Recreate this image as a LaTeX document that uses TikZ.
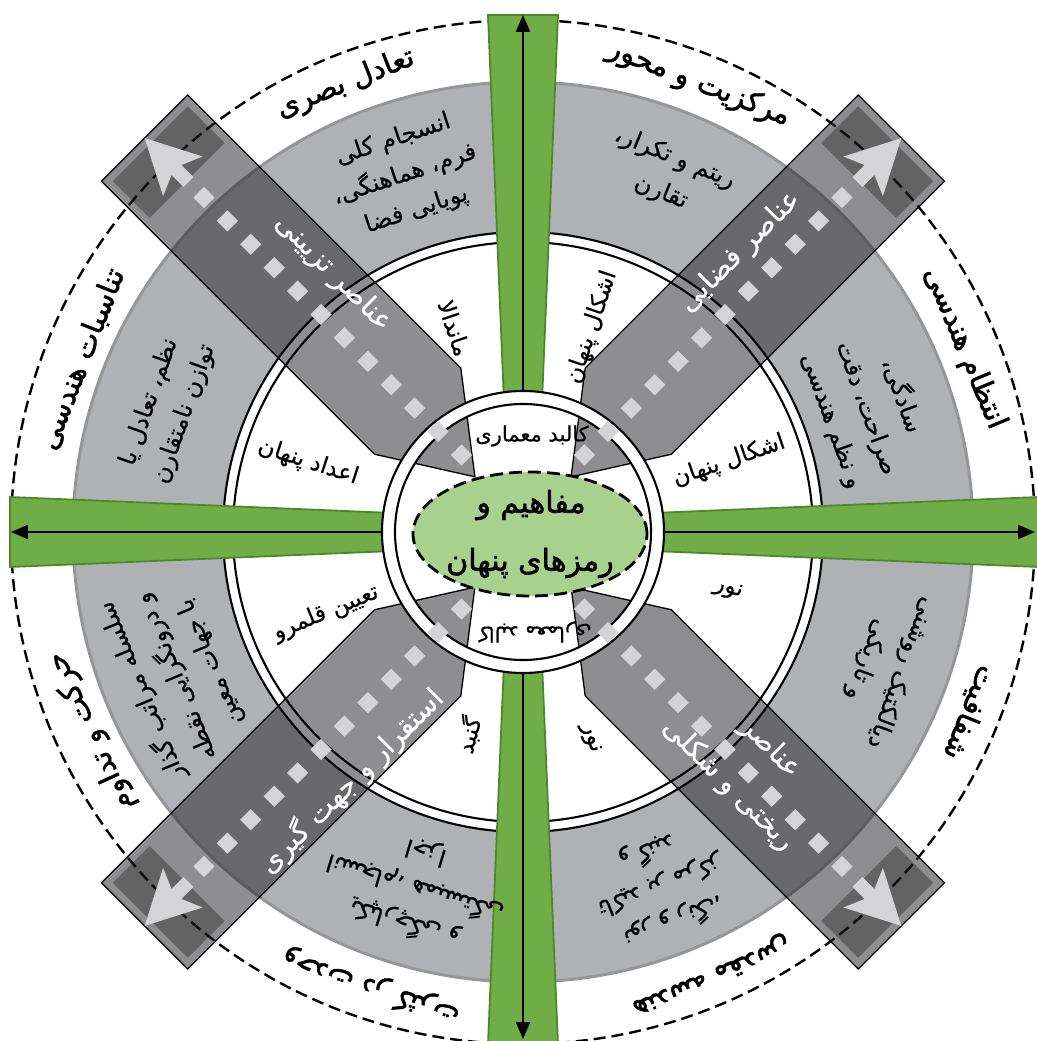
\documentclass[tikz,border=0pt]{standalone}
\usepackage{fontspec}
\newfontfamily\fa[Script=Arabic,FakeBold=0.5]{DejaVu Sans}
\newfontfamily\fab[Script=Arabic,FakeBold=1.8]{DejaVu Sans}
\TeXXeTstate=1
\usetikzlibrary{arrows.meta,shapes.geometric}
\newcommand{\fl}[1]{\beginR #1\endR}
\definecolor{ringgray}{RGB}{176,177,181}
\definecolor{ringedge}{RGB}{150,150,154}
\definecolor{bargreen}{RGB}{112,173,71}
\definecolor{baredge}{RGB}{78,136,46}
\definecolor{ellgreen}{RGB}{169,209,142}
\definecolor{diam}{RGB}{212,211,213}
\tikzset{
  bandfill/.style={fill={rgb,255:red,40;green,40;blue,44},fill opacity=0.52,draw=black,line width=1.3},
  barstyle/.style={fill=bargreen,draw=baredge,line width=1.8},
  arr/.style={line width=2.2,-{Triangle[length=17,width=14]}},
  ringline/.style={line width=2.1},
  outer/.style={font=\fab\fontsize{29}{34}\selectfont,inner sep=0},
  gtext/.style={font=\fa\fontsize{24}{37}\selectfont,align=center,inner sep=0},
  itext/.style={font=\fa\fontsize{23}{26}\selectfont,inner sep=0},
  ktext/.style={font=\fa\fontsize{21}{24}\selectfont,inner sep=0},
  btext/.style={font=\fa\fontsize{28}{32}\selectfont,text=white,align=center,inner sep=0},
  ctext/.style={font=\fab\fontsize{30}{34}\selectfont,inner sep=0}
}
\newcommand{\bandshape}{%
  \path[bandfill] (73,-5) -- (160,-72) -- (546,-72) -- (546,50) -- (160,50) -- cycle;
  \fill[black,opacity=0.3] (486,-64) rectangle (538,42);
}
\newcommand{\banddeco}{%
  \foreach \i in {0,...,11}{\pgfmathsetmacro\u{98+33.1*\i}\fill[diam] (\u-7.5,-18.5) rectangle (\u+7.5,-3.5);}
  \fill[diam] (546,-11) -- (492,17) -- (501,-4) -- (484,-4) -- (484,-18) -- (501,-18) -- (492,-39) -- cycle;
}
\begin{document}
\begin{tikzpicture}[x=1pt,y=1pt]
\useasboundingbox (-523,-509) rectangle (513,532);
\fill[white] (-523,-509) rectangle (513,532);
% gray ring
\fill[ringgray,even odd rule] (0,0) circle (450) (0,0) circle (300);
\draw[ringedge,line width=3] (0,0) circle (450);
% dashed outer circle
\draw[line width=2.4,dash pattern=on 12pt off 6pt] (0,0) circle (512);
% bands
\begin{scope}[rotate=135]\bandshape\end{scope}
\begin{scope}[xscale=-1,rotate=135]\bandshape\end{scope}
\begin{scope}[yscale=-1,rotate=135]\bandshape\end{scope}
\begin{scope}[xscale=-1,yscale=-1,rotate=135]\bandshape\end{scope}
% ring lines
\draw[ringline] (0,0) circle (300);
\draw[ringline] (0,0) circle (290);
% green bars
\fill[barstyle] (-19,130) -- (19,130) -- (35,517) -- (-35,517) -- cycle;
\fill[barstyle] (-19,-130) -- (19,-130) -- (35,-512) -- (-35,-512) -- cycle;
\fill[barstyle] (-130,-19) -- (-130,19) -- (-513,35) -- (-513,-35) -- cycle;
\fill[barstyle] (130,-19) -- (130,19) -- (516,35) -- (516,-35) -- cycle;
\coordinate (tIn) at (0,130); \coordinate (tOut) at (0,517);
\coordinate (bIn) at (0,-130); \coordinate (bOut) at (0,-507);
\coordinate (lIn) at (-130,0); \coordinate (lOut) at (-512,0);
\coordinate (rIn) at (130,0); \coordinate (rOut) at (512,0);
\draw[arr] (tIn) -- (tOut);
\draw[arr] (bIn) -- (bOut);
\draw[arr] (lIn) -- (lOut);
\draw[arr] (rIn) -- (rOut);
% inner circles
\fill[white,even odd rule] (0,0) circle (141) (0,0) circle (128);
\draw[ringline] (0,0) circle (141);
\draw[ringline] (0,0) circle (128);
% ellipse
\node[draw=black,fill=ellgreen,ellipse,minimum width=234,minimum height=124,inner sep=0,line width=2.8,dash pattern=on 13pt off 6pt] (core) at (7,-2) {};
% band decorations
\begin{scope}[rotate=135]\banddeco\end{scope}
\begin{scope}[xscale=-1,rotate=135]\banddeco\end{scope}
\begin{scope}[yscale=-1,rotate=135]\banddeco\end{scope}
\begin{scope}[xscale=-1,yscale=-1,rotate=135]\banddeco\end{scope}
% center text
\node[ctext] (c1) at (8,27) {\fl{مفاهیم و}};
\node[ctext] (c2) at (7,-31) {\fl{رمزهای پنهان}};
% innermost ring texts
\node[ktext] (k1) at (9,96) {\fl{کالبد معماری}};
\node[ktext,rotate=180] (k2) at (12,-100) {\fl{کالبد معماری}};
% inner ring texts
\node[itext,rotate=-71.4] (i1) at (108.6:215) {\fl{ماندالا}};
\node[itext,rotate=71.4] (i2) at (71.4:216) {\fl{اشکال پنهان}};
\node[itext,rotate=19] (i3) at (19:218) {\fl{اشکال پنهان}};
\node[itext,rotate=-15.8] (i4) at (-15.8:213) {\fl{نور}};
\node[itext,rotate=-72] (i5) at (-72:217) {\fl{نور}};
\node[itext,rotate=75] (i6) at (-105:210) {\fl{گنبد}};
\node[itext,rotate=22.3] (i7) at (202.3:213) {\fl{تعیین قلمرو}};
\node[itext,rotate=-18] (i8) at (162:226) {\fl{اعداد پنهان}};
% gray ring texts
\node[gtext,rotate=18.3] (g1) at (108.3:376) {\fl{انسجام کلی}\\\fl{فرم، هماهنگی،}\\\fl{پویایی فضا}};
\node[gtext,rotate=-22.1] (g2) at (67.9:385) {\fl{ریتم و تکرار،}\\\fl{تقارن}};
\node[gtext,rotate=-70.2] (g3) at (19.8:366) {\fl{سادگی،}\\\fl{صراحت، دقت}\\\fl{و نظم هندسی}};
\node[gtext,rotate=-110.4] (g4) at (-20.4:385) {\fl{دیالکتیک روشنی}\\\fl{و تاریکی}};
\node[gtext,rotate=-158.8] (g5) at (-68.8:380) {\fl{نور و رنگ،}\\\fl{تاکید بر مرکز}\\\fl{و گنبد}};
\node[gtext,rotate=163.1] (g6) at (-106.9:372) {\fl{یکپارچگی و}\\\fl{انسجام، همبستگی}\\\fl{اجزا}};
\node[gtext,rotate=112.6] (g7) at (202.6:377) {\fl{سلسله مراتب گذار}\\\fl{و درونگرایی نقطه}\\\fl{با جهات معین}};
\node[gtext,rotate=70.8] (g8) at (160.8:377) {\fl{نظم، تعادل یا}\\\fl{توازن نامتقارن}};
% outer labels
\node[outer,rotate=21.6] (o1) at (111.6:482) {\fl{تعادل بصری}};
\node[outer,rotate=-21.4] (o2) at (68.6:482) {\fl{مرکزیت و محور}};
\node[outer,rotate=-67.4] (o3) at (22.6:478) {\fl{انتظام هندسی}};
\node[outer,rotate=-112] (o4) at (-22:482) {\fl{شفافیت}};
\node[outer,rotate=-157] (o5) at (-67:481) {\fl{هندسه مقدس}};
\node[outer,rotate=161.5] (o6) at (-108.5:480) {\fl{وحدت در کثرت}};
\node[outer,rotate=114.8] (o7) at (204.8:476) {\fl{حرکت و تداوم}};
\node[outer,rotate=68.6] (o8) at (158.6:474) {\fl{تناسبات هندسی}};
% band texts
\node[btext,rotate=-45] (b1) at (-190,259) {\fl{عناصر تزیینی}};
\node[btext,rotate=45] (b2) at (217,280) {\fl{عناصر فضایی}};
\node[btext,rotate=45] (b3) at (-172,-249) {\fl{استقرار و جهت گیری}};
\node[btext,rotate=-45] (b4) at (247,-216) {\fl{عناصر}};
\node[btext,rotate=-45] (b5) at (205,-253) {\fl{ریختی و شکلی}};
\end{tikzpicture}
\end{document}
